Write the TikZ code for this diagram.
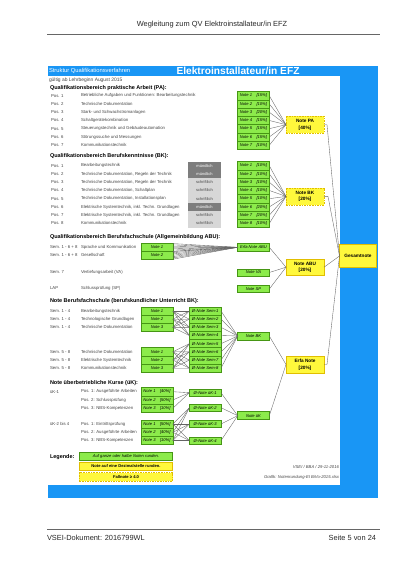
\documentclass[tikz,border=0pt]{standalone}
\usepackage{fontspec}
\setmainfont{Liberation Sans}
\usetikzlibrary{calc}
\definecolor{vblue}{RGB}{25,150,245}
\definecolor{gfill}{RGB}{140,235,75}
\definecolor{gline}{RGB}{70,150,20}
\definecolor{yfill}{RGB}{255,248,60}
\definecolor{yline}{RGB}{225,190,0}
\definecolor{mgray}{RGB}{125,125,125}
\definecolor{lgray}{RGB}{215,215,215}
\definecolor{txtgray}{RGB}{70,70,70}
\definecolor{conngray}{RGB}{100,100,100}
\newcommand\fsz[2]{\fontsize{#1}{#2}\selectfont}
\tikzset{
  every node/.style={inner sep=0pt, outer sep=0pt},
  rowtxt/.style={anchor=west, text=txtgray, font=\fsz{4.3}{5}},
  heading/.style={anchor=west, font=\bfseries\fsz{5.5}{6.5}},
  gbox/.style={draw=gline, fill=gfill, line width=0.6pt, minimum width=31.6pt, minimum height=8.2pt, font=\itshape\fsz{4.1}{5}},
  ybox/.style={draw=yline, fill=yfill, line width=0.6pt, minimum width=38pt, minimum height=17pt, align=center, font=\bfseries\fsz{4.7}{6}},
  ydbox/.style={ybox, dash pattern=on 1.6pt off 1pt},
  mbox/.style={fill=mgray, text=white, minimum width=33pt, minimum height=8.25pt, font=\fsz{4}{5}},
  sbox/.style={fill=lgray, text=txtgray, minimum width=33pt, minimum height=8.25pt, font=\fsz{4}{5}},
  conn/.style={draw=conngray, line width=0.35pt},
}
\begin{document}
\begin{tikzpicture}[x=1pt,y=-1pt]
\useasboundingbox (0,0) rectangle (400,565);
% page header
\node[font=\fsz{7.4}{8}, text=black!85] (hdr) at (212,25) {Wegleitung zum QV Elektroinstallateur/in EFZ};
\draw[black!60, line width=0.7pt] (47,34) -- (380,34);
% blue frame
\fill[vblue] (48,66) rectangle (378,498);
\fill[white] (48,76) rectangle (340,485);
\node[anchor=west, text=white, font=\fsz{5.8}{7}] (subt) at (49,71) {Struktur Qualifikationsverfahren};
\node[text=white, font=\bfseries\fsz{10.2}{11}] (title) at (238,71) {Elektroinstallateur/in EFZ};
\node[anchor=west, text=txtgray, font=\fsz{4.9}{6}] (valid) at (49,80.5) {gültig ab Lehrbeginn August 2015};
% Gesamtnote
\node[ybox, minimum width=37pt, minimum height=23pt] (ges) at (358,256) {Gesamtnote};

% ---- PA
\node[heading] (hpa) at (50,88) {Qualifikationsbereich praktische Arbeit (PA):};
\foreach \i/\t in {1/{Betriebliche Aufgaben und Funktionen: Bearbeitungstechnik},2/{Technische Dokumentation},3/{Stark- und Schwachstromanlagen},4/{Schaltgerätekombination},5/{Steuerungstechnik und Gebäudeautomation},6/{Störungssuche und Messungen},7/{Kommunikationstechnik}}{
  \pgfmathsetmacro\yy{95.7+(\i-1)*8.25}
  \node[rowtxt] (pap\i) at (51,\yy) {Pos. \i};
  \node[rowtxt] (pat\i) at (81,\yy) {\t};
}
\node[ydbox] (notePA) at (305,124.7) {Note PA\\[0.6pt][40\%]};
\foreach \i/\p in {1/15,2/10,3/20,4/15,5/15,6/15,7/10}{
  \pgfmathsetmacro\yy{95.7+(\i-1)*8.25}
  \draw[conn] (253.5,\yy) ++(15.8,0) -- (notePA.west);
  \node[gbox] (pa\i) at (253.5,\yy) {Note \i\hspace{4.5pt}[\p\%]};
}
\draw[conn] (notePA.east) -- ++(3,0) -- (ges.west);

% ---- BK
\node[heading] (hbk) at (50,156.5) {Qualifikationsbereich Berufskenntnisse (BK):};
\foreach \i/\t/\m in {1/{Bearbeitungstechnik}/m,2/{Technische Dokumentation, Regeln der Technik}/m,3/{Technische Dokumentation, Regeln der Technik}/s,4/{Technische Dokumentation, Schaltplan}/s,5/{Technische Dokumentation, Installationsplan}/s,6/{Elektrische Systemtechnik, inkl. Techn. Grundlagen}/m,7/{Elektrische Systemtechnik, inkl. Techn. Grundlagen}/s,8/{Kommunikationstechnik}/s}{
  \pgfmathsetmacro\yy{165.7+(\i-1)*8.25}
  \node[rowtxt] (bkp\i) at (51,\yy) {Pos. \i};
  \node[rowtxt] (bkt\i) at (81,\yy) {\t};
  \if\m m
    \node[mbox] (bkm\i) at (204.5,\yy) {mündlich};
  \else
    \node[sbox] (bkm\i) at (204.5,\yy) {schriftlich};
  \fi
}
\node[ydbox] (noteBK) at (305,196.4) {Note BK\\[0.6pt][20\%]};
\foreach \i/\p in {1/10,2/10,3/10,4/10,5/10,6/20,7/20,8/10}{
  \pgfmathsetmacro\yy{165.7+(\i-1)*8.25}
  \draw[conn] (253.5,\yy) ++(15.8,0) -- (noteBK.west);
  \node[gbox] (bk\i) at (253.5,\yy) {Note \i\hspace{4.5pt}[\p\%]};
}
\draw[conn] (noteBK.east) -- ++(4,0) -- (ges.west);

% ---- ABU
\node[heading] (habu) at (50,237) {Qualifikationsbereich Berufsfachschule (Allgemeinbildung ABU):};
\node[rowtxt] (abus1) at (50,247.5) {Sem. 1 - 6 + 8};
\node[rowtxt] (abut1) at (81,247.5) {Sprache und Kommunikation};
\node[rowtxt] (abus2) at (50,255.3) {Sem. 1 - 6 + 8};
\node[rowtxt] (abut2) at (81,255.3) {Gesellschaft};
\node[rowtxt] (abus3) at (50,272.3) {Sem. 7};
\node[rowtxt] (abut3) at (81,272.3) {Vertiefungsarbeit (VA)};
\node[rowtxt] (abus4) at (50,288.5) {LAP};
\node[rowtxt] (abut4) at (81,288.5) {Schlussprüfung (SP)};
\node[gbox, minimum height=7.8pt] (abu1) at (157,247.5) {Note 1};
\node[gbox, minimum height=7.8pt] (abu2) at (157,255.3) {Note 2};
\node[gbox, minimum height=7.2pt] (erfaabu) at (253.5,247.3) {Erfa Note ABU};
\node[gbox, minimum height=7.2pt] (va) at (253.5,272.5) {Note VA};
\node[gbox, minimum height=7.2pt] (sp) at (253.5,289) {Note SP};
\node[ybox, minimum height=16pt] (noteABU) at (305,267.2) {Note ABU\\[0.6pt][20\%]};
\foreach \k in {0,...,6}{
  \draw[conn] ($(abu1.north east)!\k/6!(abu1.south east)$) -- (erfaabu.west);
  \draw[conn] ($(abu2.north east)!\k/6!(abu2.south east)$) -- (erfaabu.west);
}
\draw[conn] (erfaabu.east) -- (noteABU.west);
\draw[conn] (va.east) -- (noteABU.west);
\draw[conn] (sp.east) -- (noteABU.west);
\draw[conn] (noteABU.east) -- (ges.west);

% ---- Berufsfachschule BK
\node[heading] (hbf) at (50,301) {Note Berufsfachschule (berufskundlicher Unterricht BK):};
\foreach \i/\s/\t/\yy in {1/{Sem. 1 - 4}/{Bearbeitungstechnik}/311,2/{Sem. 1 - 4}/{Technologische Grundlagen}/319.2,3/{Sem. 1 - 4}/{Technische Dokumentation}/327.4,4/{Sem. 5 - 8}/{Technische Dokumentation}/351.8,5/{Sem. 5 - 8}/{Elektrische Systemtechnik}/360,6/{Sem. 5 - 8}/{Kommunikationstechnik}/368.2}{
  \node[rowtxt] (bfs\i) at (50,\yy) {\s};
  \node[rowtxt] (bft\i) at (81,\yy) {\t};
}
\foreach \i/\n/\yy in {1/1/311,2/2/319.2,3/3/327.4,4/1/351.8,5/2/360,6/3/368.2}{
  \node[gbox] (bf\i) at (157,\yy) {Note \n};
}
\foreach \i in {1,...,8}{
  \pgfmathsetmacro\yy{311+(\i-1)*8.17}
  \node[gbox] (sem\i) at (205.2,\yy) {Ø-Note Sem-\i};
}
\foreach \a in {1,2,3}{\foreach \b in {1,2,3,4}{\draw[conn] (bf\a.east) -- (sem\b.west);}}
\foreach \a in {4,5,6}{\foreach \b in {5,6,7,8}{\draw[conn] (bf\a.east) -- (sem\b.west);}}
\node[gbox, minimum height=8pt] (nbk) at (253.5,336) {Note BK};
\foreach \i in {1,...,8}{\draw[conn] (sem\i.east) -- (nbk.west);}
\node[ybox] (erfa) at (305,364.5) {Erfa Note\\[0.6pt][20\%]};
\draw[conn] (nbk.east) -- (erfa.west);
\draw[conn] (erfa.east) -- ++(3,0) -- (ges.west);

% ---- üK
\node[heading] (huk) at (50,382.7) {Note überbetriebliche Kurse (üK):};
\node[rowtxt] (uks1) at (50,391.7) {üK-1};
\node[rowtxt] (uks2) at (50,424) {üK-2 bis 4};
\foreach \i/\t/\yy in {1/{Pos. 1: Ausgeführte Arbeiten}/391.7,2/{Pos. 2: Schlussprüfung}/400,3/{Pos. 3: NBS-Kompetenzen}/408.3,4/{Pos. 1: Eintrittsprüfung}/424,5/{Pos. 2: Ausgeführte Arbeiten}/432.3,6/{Pos. 3: NBS-Kompetenzen}/440.6}{
  \node[rowtxt] (ukt\i) at (81,\yy) {\t};
}
\foreach \i/\n/\p/\yy in {1/1/40/391.7,2/2/50/400,3/3/10/408.3,4/1/50/424,5/2/40/432.3,6/3/10/440.6}{
  \node[gbox, minimum height=8.3pt] (uk\i) at (157,\yy) {Note \n\hspace{4.5pt}[\p\%]};
}
\foreach \i/\yy in {1/392.7,2/407.7,3/424,4/440.6}{
  \node[gbox, minimum height=7pt] (duk\i) at (205.2,\yy) {Ø-Note üK-\i};
}
\foreach \a in {1,2,3}{\draw[conn] (uk\a.east) -- (duk1.west);}
\foreach \a in {4,5,6}{\foreach \b in {2,3,4}{\draw[conn] (uk\a.east) -- (duk\b.west);}}
\node[gbox, minimum height=8pt] (nuk) at (253.5,415.7) {Note üK};
\foreach \i in {1,...,4}{\draw[conn] (duk\i.east) -- (nuk.west);}
\draw[conn] (nuk.east) -- (erfa.west);

% ---- legend
\node[heading] (hleg) at (50,456.7) {Legende:};
\node[gbox, minimum width=93.4pt, minimum height=7.3pt] (lg1) at (126,456.3) {Auf ganze oder halbe Noten runden.};
\node[ybox, minimum width=93.4pt, minimum height=7.3pt, font=\bfseries\fsz{4.1}{5}] (lg2) at (126,466.3) {Note auf eine Dezimalstelle runden.};
\node[ydbox, minimum width=93.4pt, minimum height=8.3pt, font=\bfseries\fsz{4.1}{5}] (lg3) at (126,476.8) {Fallnote ≥ 4.0};
\node[anchor=east, text=txtgray, font=\itshape\fsz{4.2}{5}] (src1) at (339,466.7) {VSEI / BBA / 29-11-2016};
\node[anchor=east, text=txtgray, font=\itshape\fsz{4.2}{5}] (src2) at (339,477.7) {Grafik: Notenrundung-EI BiVo-2015.xlsx};

% ---- footer
\draw[black!60, line width=0.7pt] (47,529.3) -- (380,529.3);
\node[anchor=west, font=\fsz{7.4}{8}, text=black!85] (ft1) at (47,538.3) {VSEI-Dokument: 2016799WL};
\node[anchor=east, font=\fsz{7.4}{8}, text=black!85] (ft2) at (376,538.3) {Seite 5 von 24};
\end{tikzpicture}
\end{document}
